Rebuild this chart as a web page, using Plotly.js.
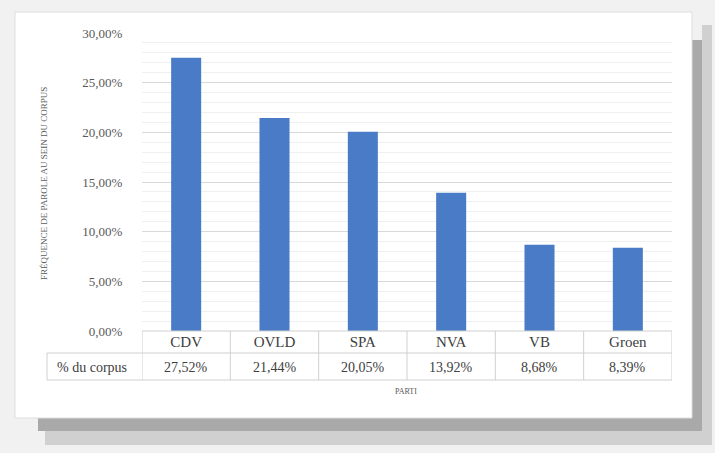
<!DOCTYPE html>
<html><head><meta charset="utf-8">
<script src="https://cdn.plot.ly/plotly-3.0.1.min.js"></script>
<style>html,body{margin:0;padding:0;background:#f1f1f1;}#c{width:715px;height:453px;}</style>
</head><body><div id="c"></div>
<script>
var categories = ['CDV','OVLD','SPA','NVA','VB','Groen'];
var values = [27.52, 21.44, 20.05, 13.92, 8.68, 8.39];
var valueLabels = ['27,52%','21,44%','20,05%','13,92%','8,68%','8,39%'];
var rowLabel = '% du corpus';
var yTitle = 'FRÉQUENCE DE PAROLE AU SEIN DU CORPUS';
var xTitle = 'PARTI';

var L=142, R=672, T=33, B=331, W=715, H=453;
function px(x){return (x-L)/(R-L);}
function py(y){return (B-y)/(B-T);}
var serif = 'Liberation Serif';

var shapes = [
  {type:'rect',xref:'paper',yref:'paper',x0:px(45),x1:px(712),y0:py(445),y1:py(430),fillcolor:'#d0d0d0',line:{width:0},layer:'below'},
  {type:'rect',xref:'paper',yref:'paper',x0:px(702),x1:px(712),y0:py(445),y1:py(25),fillcolor:'#d0d0d0',line:{width:0},layer:'below'},
  {type:'rect',xref:'paper',yref:'paper',x0:px(38),x1:px(702),y0:py(431),y1:py(418),fillcolor:'#a9a9a9',line:{width:0},layer:'below'},
  {type:'rect',xref:'paper',yref:'paper',x0:px(692),x1:px(702),y0:py(431),y1:py(40),fillcolor:'#a9a9a9',line:{width:0},layer:'below'},
  {type:'rect',xref:'paper',yref:'paper',x0:px(15),x1:px(692),y0:py(418),y1:py(12),fillcolor:'#ffffff',line:{color:'#dddddd',width:1},layer:'below'},
  {type:'line',xref:'paper',yref:'paper',x0:px(47),x1:px(R),y0:py(353),y1:py(353),line:{color:'#d0d0d0',width:1}},
  {type:'line',xref:'paper',yref:'paper',x0:px(47),x1:px(R),y0:py(380),y1:py(380),line:{color:'#d0d0d0',width:1}},
  {type:'line',xref:'paper',yref:'paper',x0:px(47),x1:px(47),y0:py(353),y1:py(380),line:{color:'#d0d0d0',width:1}},
  {type:'line',xref:'paper',yref:'paper',x0:0,x1:1,y0:0,y1:0,line:{color:'#d0d0d0',width:1}}
];
for (var k=0;k<=categories.length;k++){
  shapes.push({type:'line',xref:'x',yref:'paper',x0:k-0.5,x1:k-0.5,y0:py(331),y1:py(380),line:{color:'#d0d0d0',width:1}});
}

var annotations = [
  {xref:'paper',yref:'paper',x:px(92),y:py(367),xanchor:'center',yanchor:'middle',text:rowLabel,showarrow:false,font:{family:serif,size:14,color:'#404040'}},
  {xref:'paper',yref:'paper',x:px(44),y:py(184),xanchor:'center',yanchor:'middle',text:yTitle,textangle:-90,showarrow:false,font:{family:serif,size:9,color:'#595959'}},
  {xref:'paper',yref:'paper',x:px(406),y:py(391),xanchor:'center',yanchor:'middle',text:xTitle,showarrow:false,font:{family:serif,size:8,color:'#595959'}}
];
for (var i=0;i<categories.length;i++){
  annotations.push({xref:'x',yref:'paper',x:i,y:py(367),xanchor:'center',yanchor:'middle',text:valueLabels[i],showarrow:false,font:{family:serif,size:14,color:'#404040'}});
}

var data = [{type:'bar',x:categories.map(function(c,i){return i;}),y:values,marker:{color:'#4a7bc6'},width:0.34,hoverinfo:'none'}];

var layout = {
  width:W,height:H,
  margin:{l:L,r:W-R,t:T,b:H-B},
  paper_bgcolor:'#f1f1f1',plot_bgcolor:'rgba(0,0,0,0)',
  showlegend:false,
  separators:',.',
  font:{family:serif},
  xaxis:{range:[-0.5,5.5],tickmode:'array',tickvals:[0,1,2,3,4,5],ticktext:categories,showgrid:false,zeroline:false,showline:false,ticks:'',tickfont:{family:serif,size:15,color:'#404040'},fixedrange:true},
  yaxis:{range:[0,30],dtick:5,tickformat:'.2f',ticksuffix:'%',showgrid:true,gridcolor:'#d9d9d9',zeroline:false,showline:false,ticks:'outside',ticklen:16,tickcolor:'rgba(0,0,0,0)',tickfont:{family:serif,size:13,color:'#595959'},
    minor:{dtick:1,showgrid:true,gridcolor:'#f0f0f0'},fixedrange:true},
  shapes:shapes,
  annotations:annotations
};
Plotly.newPlot('c',data,layout,{displayModeBar:false,staticPlot:true});
</script></body></html>
